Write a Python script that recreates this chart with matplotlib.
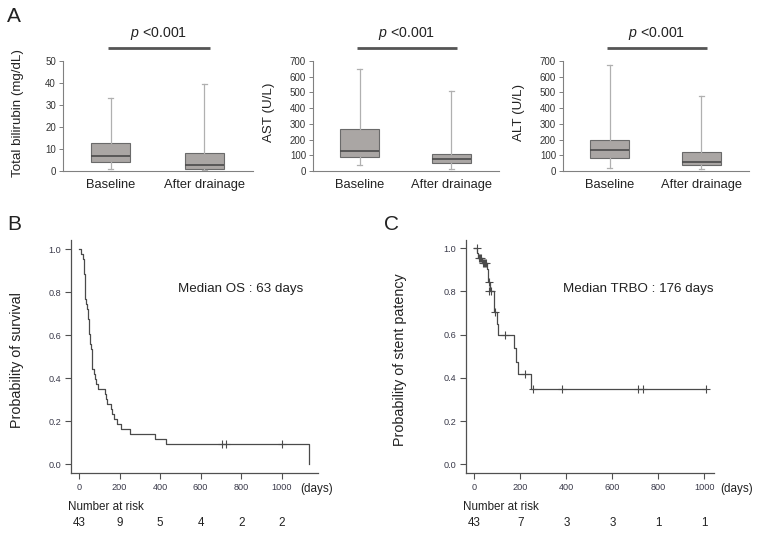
import matplotlib
matplotlib.use('Agg')
import matplotlib.pyplot as plt
from matplotlib.transforms import blended_transform_factory
from matplotlib.ticker import FormatStrFormatter

plt.rcParams['font.family'] = ['Liberation Sans', 'DejaVu Sans']
plt.rcParams['mathtext.fontset'] = 'custom'
plt.rcParams['mathtext.it'] = 'Liberation Sans:italic'
plt.rcParams['mathtext.rm'] = 'Liberation Sans'

# ---------------- Data ----------------
groups = ['Baseline', 'After drainage']
# box stats: (whislo, q1, med, q3, whishi)
bili_baseline = [1, 4, 7, 12.5, 33]
bili_after = [0.5, 1, 2.5, 8, 39.5]
ast_baseline = [40, 90, 125, 270, 650]
ast_after = [15, 48, 75, 108, 510]
alt_baseline = [20, 85, 135, 200, 675]
alt_after = [15, 35, 60, 118, 475]
box_ylabels = ['Total bilirubin (mg/dL)', 'AST (U/L)', 'ALT (U/L)']
box_ymax = [50, 700, 700]
box_ystep = [10, 100, 100]
p_text = '$p$ <0.001'

os_times = [0, 8, 20, 23, 26, 28, 30, 32, 35, 38, 42, 45, 47, 50, 53, 56, 60, 63, 66, 72,
            80, 86, 96, 127, 133, 137, 158, 165, 172, 188, 205, 252, 375, 428, 1136]
os_surv = [1.000, 0.977, 0.953, 0.907, 0.884, 0.837, 0.814, 0.767, 0.744, 0.721,
           0.698, 0.674, 0.628, 0.605, 0.581, 0.558, 0.535, 0.488, 0.442, 0.419,
           0.395, 0.372, 0.349, 0.326, 0.302, 0.279, 0.256, 0.233, 0.209, 0.186,
           0.163, 0.140, 0.116, 0.093, 0.0]
os_cens_t = [704, 725, 1002]
os_cens_s = [0.093, 0.093, 0.093]

tr_times = [0, 13, 18, 33, 55, 58, 68, 85, 100, 102, 172, 180, 191, 246, 1007]
tr_surv = [1.0, 0.977, 0.953, 0.930, 0.905, 0.843, 0.800, 0.707, 0.650, 0.600,
           0.537, 0.475, 0.417, 0.349, 0.349]
tr_cens_t = [10, 22, 25, 28, 38, 42, 46, 50, 63, 66, 72, 90, 133, 220, 254, 380, 710, 732, 1007]
tr_cens_s = [1.0, 0.953, 0.953, 0.953, 0.930, 0.930, 0.930, 0.930, 0.843, 0.800, 0.800,
             0.707, 0.600, 0.417, 0.349, 0.349, 0.349, 0.349, 0.349]

risk_days = [0, 200, 400, 600, 800, 1000]
os_risk = [43, 9, 5, 4, 2, 2]
tr_risk = [43, 7, 3, 3, 1, 1]

# ---------------- Figure ----------------
W, H = 758, 533
fig = plt.figure(figsize=(W / 100, H / 100), dpi=100)

def stat(v, label):
    return dict(whislo=v[0], q1=v[1], med=v[2], q3=v[3], whishi=v[4], fliers=[], label=label)

box_data = [(bili_baseline, bili_after), (ast_baseline, ast_after), (alt_baseline, alt_after)]
box_px = [(63, 253), (313, 499), (563, 749)]

for i, ((b, a), (l, r)) in enumerate(zip(box_data, box_px)):
    ax = fig.add_axes([l / W, 1 - 171 / H, (r - l) / W, 110 / H])
    ax.bxp([stat(b, groups[0]), stat(a, groups[1])], positions=[1, 2], widths=0.42,
           patch_artist=True, showfliers=False,
           boxprops=dict(facecolor='#aaa6a4', edgecolor='#6a6a6a', linewidth=0.8),
           medianprops=dict(color='#4a4a4a', linewidth=1.2),
           whiskerprops=dict(color='#b0b0b0', linewidth=0.9),
           capprops=dict(color='#b0b0b0', linewidth=0.9), capwidths=0.05)
    ax.set_xlim(0.49, 2.52)
    ax.set_ylim(0, box_ymax[i])
    ax.set_yticks(range(0, box_ymax[i] + 1, box_ystep[i]))
    for s in ['top', 'right']:
        ax.spines[s].set_visible(False)
    for s in ['left', 'bottom']:
        ax.spines[s].set_color('#808080')
        ax.spines[s].set_linewidth(0.8)
    ax.tick_params(axis='x', length=0, labelsize=9.3, pad=6, labelcolor='#222')
    ax.tick_params(axis='y', length=3, width=0.7, color='#808080', labelsize=7, labelcolor='#333', pad=2)
    ax.set_ylabel(box_ylabels[i], fontsize=9.6, color='#222')
    ax.yaxis.set_label_coords(-0.205, 0.53)
    trans = blended_transform_factory(ax.transData, fig.transFigure)
    ax.plot([0.97, 2.06], [1 - 48 / H, 1 - 48 / H], transform=trans, color='#555555', lw=2,
            clip_on=False, solid_capstyle='butt')
    ax.text(1.51, 1 - 34 / H, p_text, transform=trans, ha='center', va='center', fontsize=10.2,
            color='#222')

fig.text(7 / W, 1 - 16 / H, 'A', fontsize=15, ha='left', va='center', color='#222')

def km_panel(rect, xlim, ylim, times, surv, ct, cs, ylabel, label_x, median_txt, med_pos,
             risk, days_x, risk_x, letter_x):
    ax = fig.add_axes(rect)
    ax.step(times, surv, where='post', color='#4a4a4a', lw=0.9)
    ax.plot(ct, cs, '+', color='#4a4a4a', ms=6, mew=0.8, ls='none')
    ax.set_xlim(*xlim)
    ax.set_ylim(*ylim)
    ax.set_xticks(risk_days)
    ax.set_yticks([0, 0.2, 0.4, 0.6, 0.8, 1.0])
    ax.yaxis.set_major_formatter(FormatStrFormatter('%.1f'))
    for s in ['top', 'right']:
        ax.spines[s].set_visible(False)
    for s in ['left', 'bottom']:
        ax.spines[s].set_color('#505050')
        ax.spines[s].set_linewidth(0.9)
    ax.tick_params(axis='both', direction='out', length=4, width=0.8, color='#505050',
                   labelsize=6.6, labelcolor='#3a3a4a', pad=3)
    ax.set_ylabel(ylabel, fontsize=10.3, color='#222')
    ax.yaxis.set_label_coords(label_x, 0.485)
    ax.text(med_pos[0], med_pos[1], median_txt, fontsize=9.6, ha='left', va='center', color='#222')
    fig.text(days_x / W, 1 - 489 / H, '(days)', fontsize=8.4, ha='left', va='center', color='#222')
    fig.text(risk_x / W, 1 - 507 / H, 'Number at risk', fontsize=8.4, ha='left', va='center', color='#222')
    trans = blended_transform_factory(ax.transData, fig.transFigure)
    for d, n in zip(risk_days, risk):
        ax.text(d, 1 - 523 / H, str(n), transform=trans, fontsize=8.4, ha='center', va='center',
                color='#222')
    fig.text(letter_x / W, 1 - 224 / H, ax_letter[0], fontsize=15, ha='left', va='center', color='#222')
    return ax

ax_letter = ['B']
km_panel([71 / W, 1 - 473 / H, 247 / W, 233 / H], (-39.5, 1179), (-0.040, 1.043),
         os_times, os_surv, os_cens_t, os_cens_s, 'Probability of survival', -0.19,
         'Median OS : 63 days', (488, 0.815), os_risk, 300, 68, 7)
ax_letter = ['C']
km_panel([466 / W, 1 - 473 / H, 248 / W, 233 / H], (-36, 1042), (-0.040, 1.038),
         tr_times, tr_surv, tr_cens_t, tr_cens_s, 'Probability of stent patency', -0.238,
         'Median TRBO : 176 days', (386, 0.81), tr_risk, 720, 463, 384)

fig.savefig('out.png', dpi=100)
